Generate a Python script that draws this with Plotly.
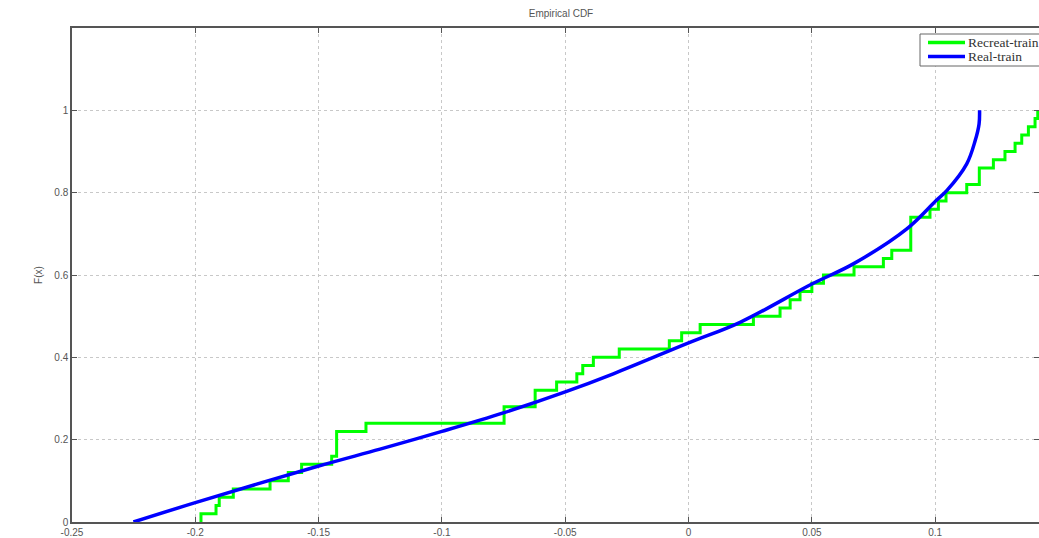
import plotly.graph_objects as go

# Recreat-train empirical CDF: step positions and CDF level after each step
green_x = [-0.1977, -0.1916, -0.1903, -0.1846, -0.1697, -0.1623, -0.1569, -0.1447,
           -0.1427, -0.1308, -0.0748, -0.0622, -0.0535, -0.0453, -0.0429, -0.0386,
           -0.0281, -0.0078, -0.0028, 0.0047, 0.0263, 0.0371, 0.0412, 0.0452,
           0.0500, 0.0547, 0.0671, 0.0790, 0.0824, 0.0901, 0.0979, 0.1013,
           0.1044, 0.1128, 0.1179, 0.1236, 0.1283, 0.1324, 0.1351, 0.1378,
           0.1405, 0.1416]
green_f = [0.02, 0.04, 0.06, 0.08, 0.10, 0.12, 0.14, 0.16,
           0.22, 0.24, 0.28, 0.32, 0.34, 0.36, 0.38, 0.40,
           0.42, 0.44, 0.46, 0.48, 0.50, 0.52, 0.54, 0.56,
           0.58, 0.60, 0.62, 0.64, 0.66, 0.74, 0.76, 0.78,
           0.80, 0.82, 0.86, 0.88, 0.90, 0.92, 0.94, 0.96,
           0.98, 1.00]

# Real-train smooth CDF
blue_x = [-0.2251, -0.2, -0.15, -0.1251, -0.1, -0.0751, -0.05, -0.0305, 0.0,
          0.0209, 0.05, 0.0668, 0.0885, 0.1004, 0.1047, 0.1128, 0.1162, 0.1178, 0.1180]
blue_y = [0.0, 0.047, 0.136, 0.177, 0.22, 0.265, 0.316, 0.36, 0.435,
          0.485, 0.578, 0.627, 0.712, 0.781, 0.805, 0.870, 0.926, 0.967, 1.0]

series_names = ["Recreat-train", "Real-train"]
series_colors = ["#00ff00", "#0000ff"]

x_ticks = [-0.25, -0.2, -0.15, -0.1, -0.05, 0, 0.05, 0.1]
x_tick_labels = ["-0.25", "-0.2", "-0.15", "-0.1", "-0.05", "0", "0.05", "0.1"]
y_ticks = [0, 0.2, 0.4, 0.6, 0.8, 1]
y_tick_labels = ["0", "0.2", "0.4", "0.6", "0.8", "1"]

FONT = "Liberation Sans, Arial, sans-serif"
SERIF = "Liberation Serif, Times New Roman, serif"
W, H = 1039, 538
L, R, T, B = 72, 0, 28, 16

fig = go.Figure()
fig.add_trace(go.Scatter(
    x=[green_x[0]] + green_x, y=[0.0] + green_f, mode="lines", line_shape="hv",
    name=series_names[0], line=dict(color=series_colors[0], width=3), showlegend=False))
fig.add_trace(go.Scatter(
    x=blue_x, y=blue_y, mode="lines", line_shape="spline",
    name=series_names[1], line=dict(color=series_colors[1], width=3.5), showlegend=False))

axis_common = dict(
    showline=True, linecolor="#555555", linewidth=1.5, mirror="ticks",
    ticks="inside", ticklen=5, tickcolor="#555555",
    showgrid=True, gridcolor="#c8c8c8", griddash="dot", gridwidth=1,
    zeroline=False,
    tickfont=dict(family=FONT, size=10, color="#555555"),
)

fig.update_xaxes(range=[-0.25, 0.1421], tickvals=x_ticks, ticktext=x_tick_labels, **axis_common)
fig.update_yaxes(range=[0, 1.2], tickvals=y_ticks, ticktext=y_tick_labels,
                 title=dict(text="F(x)", font=dict(family=FONT, size=10, color="#555555"), standoff=10),
                 **axis_common)

# Legend drawn in pixel-matched paper coordinates (MATLAB-style compact legend)
pw, ph = W - L - R, H - T - B
def px(xp):
    return (xp - L) / pw
def py(yp):
    return (H - B - yp) / ph

shapes = [dict(type="rect", xref="paper", yref="paper",
               x0=px(920), x1=px(1060), y0=py(66), y1=py(34),
               line=dict(color="#666666", width=1), fillcolor="white", layer="above")]
annotations = []
for i, (nm, col) in enumerate(zip(series_names, series_colors)):
    yy = 42.5 + i * 14
    shapes.append(dict(type="line", xref="paper", yref="paper",
                       x0=px(928), x1=px(965), y0=py(yy), y1=py(yy),
                       line=dict(color=col, width=3.5), layer="above"))
    annotations.append(dict(text=nm, xref="paper", yref="paper", x=px(966), y=py(yy),
                            xanchor="left", yanchor="middle", showarrow=False,
                            font=dict(family=SERIF, size=13.5, color="#333333")))

fig.update_layout(
    width=W, height=H,
    paper_bgcolor="white", plot_bgcolor="white",
    margin=dict(l=L, r=R, t=T, b=B, autoexpand=False),
    title=dict(text="Empirical CDF", x=561 / W, xanchor="center", y=1 - 13 / H, yanchor="middle",
               font=dict(family=FONT, size=10, color="#555555")),
    showlegend=False,
    shapes=shapes,
    annotations=annotations,
)

fig.write_html("out.html", config={"displayModeBar": False},
               post_script="document.body.style.margin='0';document.body.style.overflow='hidden';")
